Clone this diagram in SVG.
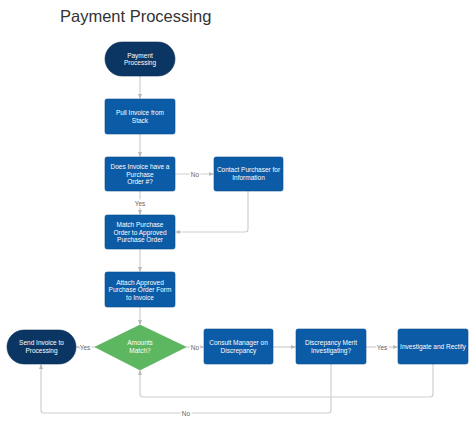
<svg xmlns="http://www.w3.org/2000/svg" width="474" height="423" viewBox="0 0 474 423">
<defs>
<style>
.t{font-family:"Liberation Sans",Arial,sans-serif;font-size:6.5px;fill:#fff;text-anchor:middle}
.title{font-family:"Liberation Sans",Arial,sans-serif;font-size:16.5px;fill:#333}
.box{fill:#0b5ba6;stroke:#0a4f90;stroke-width:0.6}
.term{fill:#0b3664;stroke:#082b50;stroke-width:0.6}
.dia{fill:#5db760;stroke:#4ea651;stroke-width:0.6}
.c{fill:none;stroke:#cfcfcf;stroke-width:1.2;stroke-linejoin:round}
.lbl{font-family:"Liberation Sans",Arial,sans-serif;font-size:6.5px;fill:#666;text-anchor:middle;stroke:#fff;stroke-width:3;paint-order:stroke}
</style>
<marker id="a" viewBox="0 0 6 6" refX="5.5" refY="3" markerWidth="4" markerHeight="4" orient="auto"><path d="M0,0.5 L6,3 L0,5.5 Z" fill="#b8b8b8"/></marker>
</defs>
<rect width="474" height="423" fill="#fff"/>
<text class="title" x="60" y="22">Payment Processing</text>
<g id="connectors">
<path class="c" d="M140,76 V98.5" marker-end="url(#a)"/>
<path class="c" d="M140,134 V156.5" marker-end="url(#a)"/>
<path class="c" d="M175,174 H213.5" marker-end="url(#a)"/>
<path class="c" d="M140,191 V214.5" marker-end="url(#a)"/>
<path class="c" d="M248,191 V229 Q248,232 245,232 H175.5" marker-end="url(#a)"/>
<path class="c" d="M140,249 V271.5" marker-end="url(#a)"/>
<path class="c" d="M140,307 V324.5" marker-end="url(#a)"/>
<path class="c" d="M95,347 H76.5" marker-end="url(#a)"/>
<path class="c" d="M186,347 H203.5" marker-end="url(#a)"/>
<path class="c" d="M273,347 H295.5" marker-end="url(#a)"/>
<path class="c" d="M366,347 H397.5" marker-end="url(#a)"/>
<path class="c" d="M433,364 V394 Q433,397 430,397 H143 Q140,397 140,394 V370.5" marker-end="url(#a)"/>
<path class="c" d="M331,364 V410 Q331,413 328,413 H44 Q41,413 41,410 V364.5" marker-end="url(#a)"/>
<text class="lbl" x="195" y="176.5">No</text>
<text class="lbl" x="140" y="205.5">Yes</text>
<text class="lbl" x="85" y="349.5">Yes</text>
<text class="lbl" x="195" y="349.5">No</text>
<text class="lbl" x="382" y="349.5">Yes</text>
<text class="lbl" x="186" y="415.5">No</text>
</g>
<g id="start"><rect class="term" x="105" y="42" width="70" height="34" rx="17"/><text class="t" x="140" y="57.5">Payment</text><text class="t" x="140" y="65">Processing</text></g>
<g id="pull"><rect class="box" x="105" y="99" width="70" height="35" rx="2"/><text class="t" x="140" y="115">Pull  Invoice from</text><text class="t" x="140" y="122.5">Stack</text></g>
<g id="does"><rect class="box" x="105" y="157" width="70" height="34" rx="2"/><text class="t" x="140" y="169">Does Invoice have a</text><text class="t" x="140" y="176.5">Purchase</text><text class="t" x="140" y="184">Order #?</text></g>
<g id="contact"><rect class="box" x="214" y="157" width="69" height="34" rx="2"/><text class="t" x="248.5" y="172">Contact Purchaser for</text><text class="t" x="248.5" y="179.5">Information</text></g>
<g id="match"><rect class="box" x="105" y="215" width="70" height="34" rx="2"/><text class="t" x="140" y="227">Match  Purchase</text><text class="t" x="140" y="234.5">Order to Approved</text><text class="t" x="140" y="242">Purchase Order</text></g>
<g id="attach"><rect class="box" x="105" y="272" width="70" height="35" rx="2"/><text class="t" x="140" y="284.5">Attach Approved</text><text class="t" x="140" y="292">Purchase Order Form</text><text class="t" x="140" y="299.5">to Invoice</text></g>
<g id="amounts"><path class="dia" d="M140,325 L186,347 L140,370 L95,347 Z"/><text class="t" x="140" y="345">Amounts</text><text class="t" x="140" y="352.5">Match?</text></g>
<g id="send"><rect class="term" x="7" y="330" width="69" height="34" rx="17"/><text class="t" x="41.5" y="345">Send Invoice to</text><text class="t" x="41.5" y="352.5">Processing</text></g>
<g id="consult"><rect class="box" x="204" y="329" width="69" height="35" rx="2"/><text class="t" x="238.5" y="345">Consult Manager on</text><text class="t" x="238.5" y="352.5">Discrepancy</text></g>
<g id="discrepancy"><rect class="box" x="296" y="329" width="70" height="35" rx="2"/><text class="t" x="331" y="345">Discrepancy Merit</text><text class="t" x="331" y="352.5">Investigating?</text></g>
<g id="investigate"><rect class="box" x="398" y="329" width="70" height="35" rx="2"/><text class="t" x="433" y="349">Investigate and Rectify</text></g>
</svg>
